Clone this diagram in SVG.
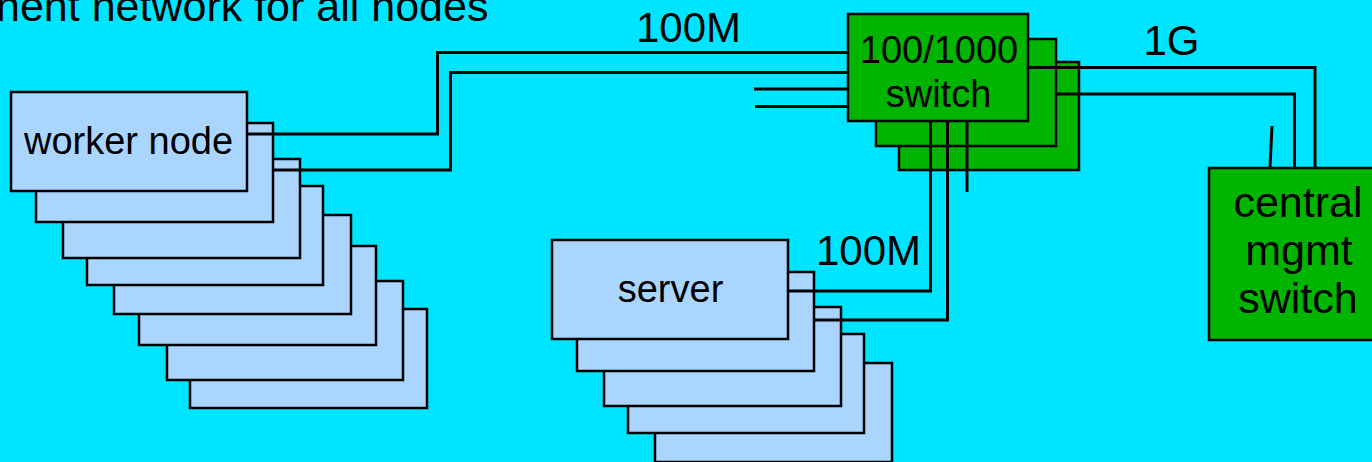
<svg xmlns="http://www.w3.org/2000/svg" width="1372" height="462" viewBox="0 0 1372 462">
<style>
.bg{fill:#00E5FF}
.node{fill:#A9D5FF;stroke:#000;stroke-width:2.5}
.sw{fill:#00B400;stroke:#000;stroke-width:2.5}
.t{font-family:"Liberation Sans",Arial,sans-serif;fill:#000}
.c{text-anchor:middle}
.wire{fill:none;stroke:#000;stroke-width:3}
</style>
<rect class="bg" x="0" y="0" width="1372" height="462"/>
<text class="t" x="-4" y="21" font-size="43">nent network for all nodes</text>

<g id="worker-nodes">
  <rect class="node" x="190" y="309" width="237" height="99"/>
  <rect class="node" x="167" y="281" width="236" height="99"/>
  <rect class="node" x="139" y="246" width="237" height="99"/>
  <rect class="node" x="114" y="215" width="237" height="99"/>
  <rect class="node" x="87" y="186" width="236" height="99"/>
  <rect class="node" x="63" y="159" width="237" height="99"/>
  <rect class="node" x="36" y="123" width="237" height="99"/>
  <rect class="node" x="11" y="92" width="236" height="99"/>
  <text class="t c" x="128.5" y="154" font-size="38">worker node</text>
</g>

<g id="servers">
  <rect class="node" x="655" y="363" width="237" height="99"/>
  <rect class="node" x="628" y="334" width="236" height="99"/>
  <rect class="node" x="604" y="307" width="237" height="99"/>
  <rect class="node" x="577" y="272" width="237" height="99"/>
  <rect class="node" x="552" y="240" width="236" height="99"/>
  <text class="t c" x="670.5" y="302" font-size="38">server</text>
</g>

<g id="switch-100-1000">
  <rect class="sw" x="899" y="62" width="180" height="108"/>
  <rect class="sw" x="876" y="39" width="180" height="107"/>
  <rect class="sw" x="848" y="14" width="180" height="107"/>
  <text class="t c" x="939" y="63" font-size="38">100/1000</text>
  <text class="t c" x="938.5" y="107" font-size="38">switch</text>
</g>

<g id="central-mgmt-switch">
  <rect class="sw" x="1209" y="168" width="175" height="172"/>
  <text class="t c" x="1298" y="217" font-size="43">central</text>
  <text class="t c" x="1299" y="265" font-size="43">mgmt</text>
  <text class="t c" x="1298" y="313" font-size="43">switch</text>
</g>

<g id="connectors">
  <polyline class="wire" points="247,134 437.5,134 437.5,52.5 848,52.5"/>
  <polyline class="wire" points="273,170 450.5,170 450.5,72.5 848,72.5"/>
  <line class="wire" x1="754" y1="89" x2="848" y2="89"/>
  <line class="wire" x1="755" y1="106.5" x2="848" y2="106.5"/>
  <polyline class="wire" points="930.5,121 930.5,291 788,291"/>
  <polyline class="wire" points="947.5,121 947.5,320 814,320"/>
  <line class="wire" x1="967" y1="121" x2="967" y2="192"/>
  <polyline class="wire" points="1028,67.5 1315,67.5 1315,168"/>
  <polyline class="wire" points="1056,94 1294.5,94 1294.5,168"/>
  <line class="wire" x1="1272" y1="126" x2="1270" y2="167"/>
</g>

<g id="labels">
  <text class="t c" x="688.5" y="42" font-size="42">100M</text>
  <text class="t c" x="868.5" y="265" font-size="42">100M</text>
  <text class="t c" x="1171.5" y="55" font-size="42">1G</text>
</g>
</svg>
